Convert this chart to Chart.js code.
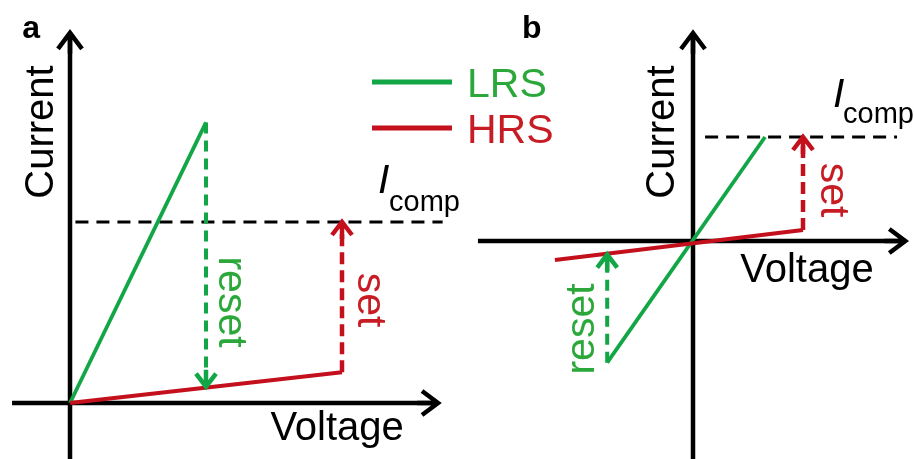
<!DOCTYPE html>
<html><head><meta charset="utf-8">
<script src="https://cdn.jsdelivr.net/npm/chart.js@4"></script>
<style>html,body{margin:0;padding:0;background:#fff;}canvas{display:block;}</style>
</head><body>
<canvas id="c" width="914" height="459"></canvas>
<script>
// ---------- text ----------
const seriesNames = ['LRS', 'HRS'];
const axisTitles = ['Current', 'Voltage'];
const compLabel = ['I', 'comp'];
const panelLabels = ['a', 'b'];
const stepLabels = ['reset', 'set'];

// ---------- panel a (unipolar) ----------
const aLrsV = [0, 0.5],      aLrsI = [0, 1.55];
const aHrsV = [0, 1.0],      aHrsI = [0, 0.17];
const aResetV = [0.5, 0.5],  aResetI = [1.55, 0.09];
const aSetV = [1.0, 1.0],    aSetI = [0.17, 1.0];
const aCompV = [0.02, 1.37], aCompI = [1.0, 1.0];
const aAxisV = [-0.213, 1.353], aAxisI = [-0.32, 2.045];

// ---------- panel b (bipolar) ----------
const bLrsV = [-0.78, 0.655],  bLrsI = [-1.17, 1.0];
const bHrsV = [-1.255, 1.0],   bHrsI = [-0.183, 0.106];
const bResetV = [-0.78, -0.78], bResetI = [-1.17, -0.13];
const bSetV = [1.0, 1.0],       bSetI = [0.106, 1.0];
const bCompV = [0.11, 1.855],   bCompI = [1.0, 1.0];
const bAxisV = [-1.955, 1.93],  bAxisI = [-2.2, 2.0];

const GREEN = '#12a646', RED = '#c3101c', BLACK = '#000000';
const GREEN_TXT = '#2ca83a', RED_TXT = '#c81c24';

function pts(v, i) { return v.map((x, k) => ({ x: x, y: i[k] })); }
function ds(label, v, i, p, color, width, dash, arrow, order) {
  return {
    label: label, data: pts(v, i), xAxisID: 'x' + p, yAxisID: 'y' + p,
    borderColor: color, backgroundColor: color, borderWidth: width,
    borderDash: dash || [], showLine: true, pointRadius: 0, pointHoverRadius: 0,
    tension: 0, borderCapStyle: 'butt', borderJoinStyle: 'round',
    arrow: arrow || null, order: order
  };
}
const axisArrow = { len: 16, half: 12, width: 4.5 };
const stepArrow = { len: 13, half: 10, width: 4.5 };

const datasets = [
  // axes
  ds('', aAxisV, [0, 0], 'a', BLACK, 4.5, null, axisArrow, 10),
  ds('', [0, 0], aAxisI, 'a', BLACK, 4.5, null, axisArrow, 10),
  ds('', bAxisV, [0, 0], 'b', BLACK, 4.5, null, axisArrow, 10),
  ds('', [0, 0], bAxisI, 'b', BLACK, 4.5, null, axisArrow, 10),
  // compliance
  ds('', aCompV, aCompI, 'a', BLACK, 2.8, [13, 8], null, 9),
  ds('', bCompV, bCompI, 'b', BLACK, 2.8, [13, 8], null, 9),
  // panel a
  ds(seriesNames[0], aLrsV, aLrsI, 'a', GREEN, 3.8, null, null, 3),
  ds(seriesNames[1], aHrsV, aHrsI, 'a', RED, 4, null, null, 2),
  ds('', aResetV, aResetI, 'a', GREEN, 4, [11, 7], stepArrow, 4),
  ds('', aSetV, aSetI, 'a', RED, 4.5, [12, 6], stepArrow, 4),
  // panel b
  ds(seriesNames[0], bLrsV, bLrsI, 'b', GREEN, 3.8, null, null, 3),
  ds(seriesNames[1], bHrsV, bHrsI, 'b', RED, 4, null, null, 2),
  ds('', bResetV, bResetI, 'b', GREEN, 4, [11, 7], stepArrow, 4),
  ds('', bSetV, bSetI, 'b', RED, 4.5, [12, 6], stepArrow, 4)
];

const FONT = '"Liberation Sans", Arial, sans-serif';
const annotations = [
  { p: 'a', text: panelLabels[0], v: -0.176, i: 2.017, size: 32, weight: 'bold', color: BLACK, align: 'left' },
  { p: 'b', text: panelLabels[1], v: -1.555, i: 1.952, size: 32, weight: 'bold', color: BLACK, align: 'left' },
  { p: 'a', text: axisTitles[0], v: -0.103, i: 1.497, size: 40, rot: -90, color: BLACK, align: 'center', base: 'middle' },
  { p: 'b', text: axisTitles[0], v: -0.273, i: 1.048, size: 40, rot: -90, color: BLACK, align: 'center', base: 'middle' },
  { p: 'a', text: axisTitles[1], v: 0.982, i: -0.204, size: 40, color: BLACK, align: 'center' },
  { p: 'b', text: axisTitles[1], v: 1.036, i: -0.394, size: 40, color: BLACK, align: 'center' },
  { p: 'a', text: stepLabels[0], v: 0.588, i: 0.558, size: 41, rot: 90, color: GREEN_TXT, align: 'center', base: 'middle' },
  { p: 'a', text: stepLabels[1], v: 1.099, i: 0.569, size: 41, rot: 90, color: RED_TXT, align: 'center', base: 'middle' },
  { p: 'b', text: stepLabels[0], v: -1.0, i: -0.846, size: 41, rot: -90, color: GREEN_TXT, align: 'center', base: 'middle' },
  { p: 'b', text: stepLabels[1], v: 1.264, i: 0.490, size: 41, rot: 90, color: RED_TXT, align: 'center', base: 'middle' },
  { p: 'a', text: compLabel[0], v: 1.132, i: 1.160, size: 41, style: 'italic', color: BLACK, align: 'left' },
  { p: 'a', text: compLabel[1], v: 1.173, i: 1.061, size: 29, color: BLACK, align: 'left' },
  { p: 'b', text: compLabel[0], v: 1.273, i: 1.288, size: 41, style: 'italic', color: BLACK, align: 'left' },
  { p: 'b', text: compLabel[1], v: 1.364, i: 1.135, size: 29, color: BLACK, align: 'left' }
];

const arrowPlugin = {
  id: 'arrowHeads',
  afterDatasetsDraw(chart) {
    const ctx = chart.ctx;
    chart.data.datasets.forEach((d) => {
      if (!d.arrow) return;
      const xs = chart.scales[d.xAxisID], ys = chart.scales[d.yAxisID];
      const n = d.data.length;
      const x1 = xs.getPixelForValue(d.data[n - 2].x), y1 = ys.getPixelForValue(d.data[n - 2].y);
      const x2 = xs.getPixelForValue(d.data[n - 1].x), y2 = ys.getPixelForValue(d.data[n - 1].y);
      const L = Math.hypot(x2 - x1, y2 - y1), ux = (x2 - x1) / L, uy = (y2 - y1) / L;
      const px = -uy, py = ux;
      const a = d.arrow;
      ctx.save();
      ctx.strokeStyle = d.borderColor; ctx.lineWidth = a.width;
      ctx.lineJoin = 'miter'; ctx.lineCap = 'butt'; ctx.setLineDash([]);
      ctx.beginPath();
      ctx.moveTo(x2 - ux * a.len + px * a.half, y2 - uy * a.len + py * a.half);
      ctx.lineTo(x2, y2);
      ctx.lineTo(x2 - ux * a.len - px * a.half, y2 - uy * a.len - py * a.half);
      ctx.moveTo(x2, y2);
      ctx.lineTo(x2 - ux * a.len * 1.3, y2 - uy * a.len * 1.3);
      ctx.stroke();
      ctx.restore();
    });
  }
};

const textPlugin = {
  id: 'texts',
  afterDatasetsDraw(chart) {
    const ctx = chart.ctx;
    annotations.forEach((t) => {
      const x = chart.scales['x' + t.p].getPixelForValue(t.v);
      const y = chart.scales['y' + t.p].getPixelForValue(t.i);
      ctx.save();
      ctx.translate(x, y);
      if (t.rot) ctx.rotate(t.rot * Math.PI / 180);
      ctx.font = (t.style || 'normal') + ' ' + (t.weight || 'normal') + ' ' + t.size + 'px ' + FONT;
      ctx.fillStyle = t.color;
      ctx.textAlign = t.align || 'left';
      ctx.textBaseline = t.base || 'alphabetic';
      ctx.fillText(t.text, 0, 0);
      ctx.restore();
    });
    // legend (LRS / HRS)
    const o = chart.options.plugins.customLegend;
    const items = chart.data.datasets.filter(d => d.xAxisID === 'xa' && seriesNames.includes(d.label));
    items.forEach((d, k) => {
      const y = o.y + k * o.rowH;
      ctx.save();
      ctx.strokeStyle = d.borderColor; ctx.lineWidth = o.lineW; ctx.setLineDash([]);
      ctx.beginPath(); ctx.moveTo(o.x, y); ctx.lineTo(o.x + o.lineLen, y); ctx.stroke();
      ctx.fillStyle = d.borderColor === GREEN ? GREEN_TXT : RED_TXT;
      ctx.font = 'normal ' + o.size + 'px ' + FONT;
      ctx.textAlign = 'left'; ctx.textBaseline = 'alphabetic';
      ctx.fillText(d.label, o.x + o.lineLen + o.gap, y + o.size * 0.36);
      ctx.restore();
    });
  }
};

new Chart(document.getElementById('c'), {
  type: 'scatter',
  data: { datasets: datasets },
  options: {
    responsive: false, animation: false, events: [],
    layout: { padding: 0 },
    scales: {
      xa: { type: 'linear', axis: 'x', display: false, min: -70 / 272, max: (914 - 70) / 272 },
      ya: { type: 'linear', axis: 'y', display: false, min: -(459 - 403) / 181, max: 403 / 181 },
      xb: { type: 'linear', axis: 'x', display: false, min: -693 / 110, max: (914 - 693) / 110 },
      yb: { type: 'linear', axis: 'y', display: false, min: -(459 - 241) / 104, max: 241 / 104 }
    },
    plugins: {
      legend: { display: false }, tooltip: { enabled: false },
      customLegend: { x: 372, y: 82, rowH: 46, lineLen: 80, gap: 15, lineW: 5, size: 41 }
    }
  },
  plugins: [arrowPlugin, textPlugin]
});
</script>
</body></html>
